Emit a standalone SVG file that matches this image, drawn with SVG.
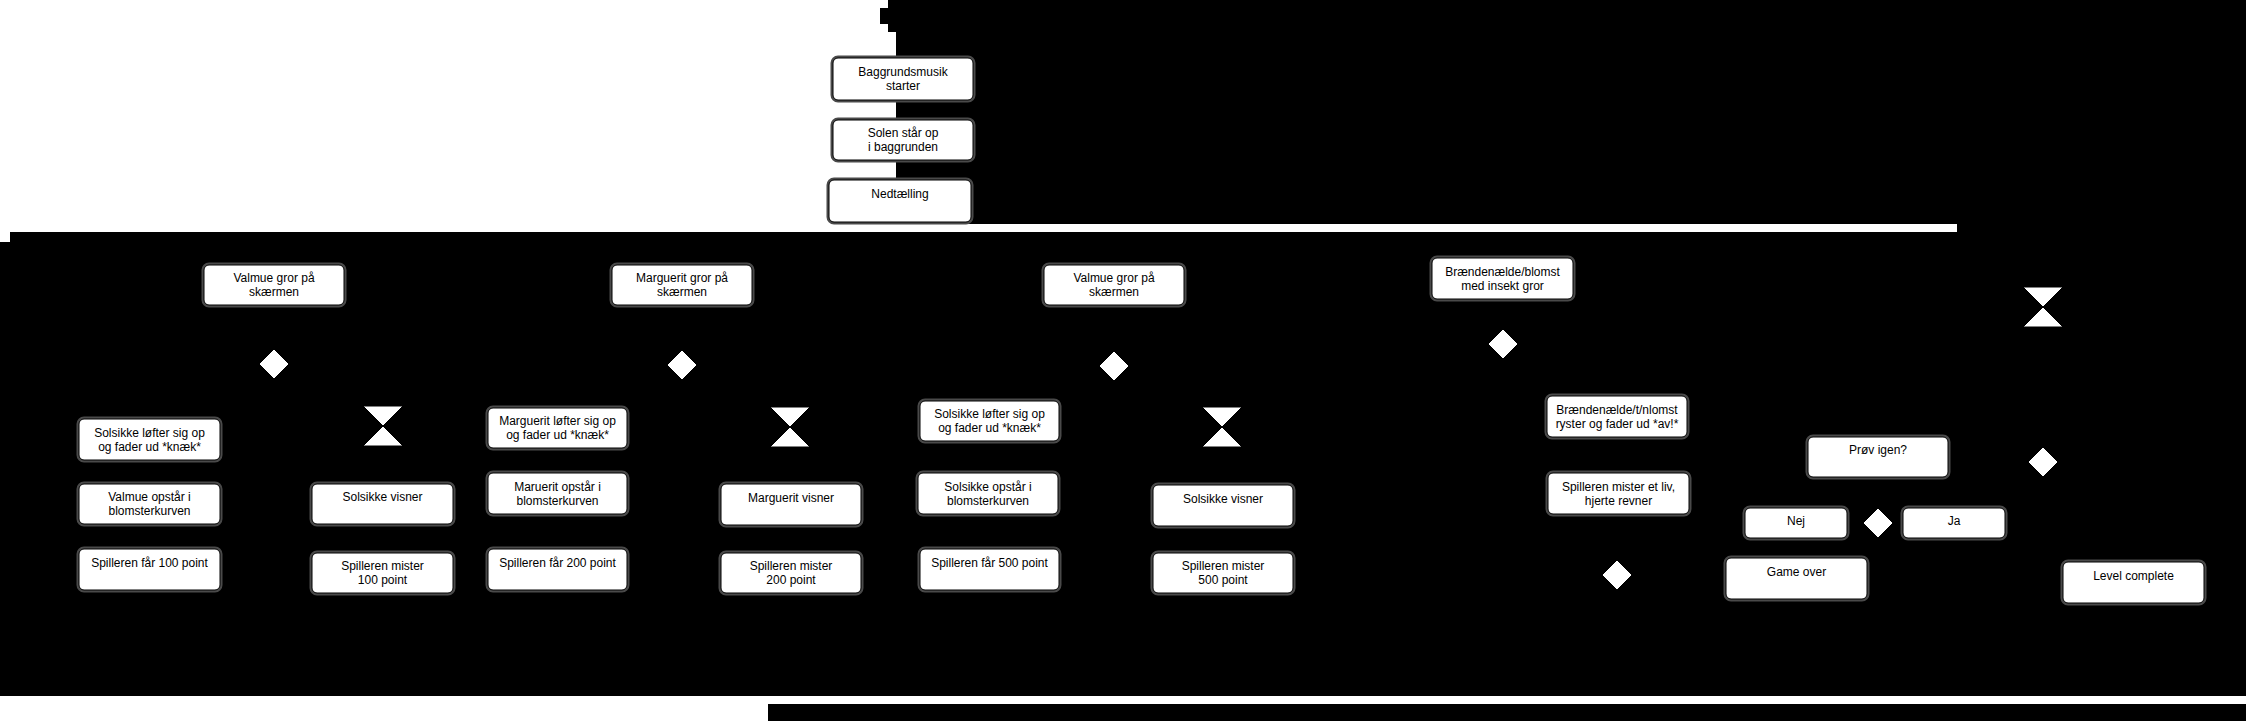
<svg xmlns="http://www.w3.org/2000/svg" width="2246" height="721" viewBox="0 0 2246 721">
<defs>
<style>
.bg{fill:#000}
.white{fill:#fff}
.halo{fill:none;stroke:#4a4a4a;stroke-width:5}
.box{fill:#fff;stroke:#000;stroke-width:1}
.dia{fill:#fff;stroke:#000;stroke-width:1}
text{font-family:"Liberation Sans",Arial,Helvetica,sans-serif;font-size:12px;fill:#000;text-anchor:middle}
.conn path{fill:none;stroke:#000;stroke-width:1;marker-end:url(#arr)}
</style>
<marker id="arr" viewBox="0 0 10 10" refX="10" refY="5" markerWidth="7" markerHeight="7" orient="auto"><path d="M0,0 L10,5 L0,10 z" fill="#000"/></marker>
</defs>
<rect class="bg" x="0" y="0" width="2246" height="721"/>
<g id="backdrop">
<polygon class="white" points="0,0 888,0 888,8 880,8 880,24 888,24 888,32 896,32 896,224 1957,224 1957,232 10,232 10,242 0,242"/>
<rect class="white" x="0" y="696" width="2246" height="8"/>
<rect class="white" x="0" y="704" width="768" height="17"/>
</g>
<g id="connectors" class="conn">
<path d="M903,32 V57"/>
<path d="M903,100 V119"/>
<path d="M903,160 V179"/>
<path d="M274,305 V348"/>
<path d="M259,364 H149.5 V418"/>
<path d="M289,364 H383 V405"/>
<path d="M149.5,460 V483"/>
<path d="M149.5,524 V548"/>
<path d="M383,447 V483"/>
<path d="M383,524 V552"/>
<path d="M682,305 V349"/>
<path d="M667,365 H557.5 V407"/>
<path d="M697,365 H790 V406"/>
<path d="M557.5,448 V472"/>
<path d="M557.5,514 V548"/>
<path d="M790,447 V483"/>
<path d="M791,525 V552"/>
<path d="M1114,305 V350"/>
<path d="M1099,366 H989.5 V400"/>
<path d="M1129,366 H1222 V406"/>
<path d="M989.5,441 V472"/>
<path d="M988,514 V548"/>
<path d="M1222,447 V484"/>
<path d="M1223,526 V552"/>
<path d="M1502.5,299 V328"/>
<path d="M1518,344 H1617 V395"/>
<path d="M1617,437 V472"/>
<path d="M1618,514 V559"/>
<path d="M1632,575 H1725"/>
<path d="M2043,327 V446"/>
<path d="M2028,462 H1949"/>
<path d="M2043,477 V540 H2133.5 V561"/>
<path d="M1878,477 V507"/>
<path d="M1863,523 H1848"/>
<path d="M1893,523 H1902"/>
<path d="M1796,538 V557"/>
</g>
<g id="n-musik"><rect class="halo" x="833" y="58" width="140" height="42" rx="5"/><rect class="box" x="833" y="58" width="140" height="42" rx="5"/><text x="903" y="76">Baggrundsmusik</text><text x="903" y="90.4">starter</text></g>
<g id="n-solen"><rect class="halo" x="833" y="120" width="140" height="40" rx="5"/><rect class="box" x="833" y="120" width="140" height="40" rx="5"/><text x="903" y="137">Solen står op</text><text x="903" y="151.4">i baggrunden</text></g>
<g id="n-nedtaelling"><rect class="halo" x="829" y="180" width="142" height="42" rx="5"/><rect class="box" x="829" y="180" width="142" height="42" rx="5"/><text x="900" y="198">Nedtælling</text></g>

<g id="n-valmue1"><rect class="halo" x="204" y="265" width="140" height="40" rx="5"/><rect class="box" x="204" y="265" width="140" height="40" rx="5"/><text x="274" y="282">Valmue gror på</text><text x="274" y="296.4">skærmen</text></g>
<g id="d1"><polygon class="dia" points="274,349 289,364 274,379 259,364"/></g>
<g id="h1"><polygon class="dia" points="363,406 403,406 363,446 403,446"/></g>
<g id="n-loefter1"><rect class="halo" x="79" y="419" width="141" height="41" rx="5"/><rect class="box" x="79" y="419" width="141" height="41" rx="5"/><text x="149.5" y="436.5">Solsikke løfter sig op</text><text x="149.5" y="450.9">og fader ud *knæk*</text></g>
<g id="n-opstaar1"><rect class="halo" x="79" y="484" width="141" height="40" rx="5"/><rect class="box" x="79" y="484" width="141" height="40" rx="5"/><text x="149.5" y="501">Valmue opstår i</text><text x="149.5" y="515.4">blomsterkurven</text></g>
<g id="n-faar100"><rect class="halo" x="79" y="549" width="141" height="41" rx="5"/><rect class="box" x="79" y="549" width="141" height="41" rx="5"/><text x="149.5" y="566.5">Spilleren får 100 point</text></g>
<g id="n-visner1"><rect class="halo" x="312" y="484" width="141" height="40" rx="5"/><rect class="box" x="312" y="484" width="141" height="40" rx="5"/><text x="382.5" y="501">Solsikke visner</text></g>
<g id="n-mister100"><rect class="halo" x="312" y="553" width="141" height="40" rx="5"/><rect class="box" x="312" y="553" width="141" height="40" rx="5"/><text x="382.5" y="570">Spilleren mister</text><text x="382.5" y="584.4">100 point</text></g>

<g id="n-marguerit"><rect class="halo" x="612" y="265" width="140" height="40" rx="5"/><rect class="box" x="612" y="265" width="140" height="40" rx="5"/><text x="682" y="282">Marguerit gror på</text><text x="682" y="296.4">skærmen</text></g>
<g id="d2"><polygon class="dia" points="682,350 697,365 682,380 667,365"/></g>
<g id="h2"><polygon class="dia" points="770,407 810,407 770,447 810,447"/></g>
<g id="n-loefter2"><rect class="halo" x="488" y="408" width="139" height="40" rx="5"/><rect class="box" x="488" y="408" width="139" height="40" rx="5"/><text x="557.5" y="425">Marguerit løfter sig op</text><text x="557.5" y="439.4">og fader ud *knæk*</text></g>
<g id="n-opstaar2"><rect class="halo" x="488" y="473" width="139" height="41" rx="5"/><rect class="box" x="488" y="473" width="139" height="41" rx="5"/><text x="557.5" y="490.5">Maruerit opstår i</text><text x="557.5" y="504.9">blomsterkurven</text></g>
<g id="n-faar200"><rect class="halo" x="488" y="549" width="139" height="41" rx="5"/><rect class="box" x="488" y="549" width="139" height="41" rx="5"/><text x="557.5" y="566.5">Spilleren får 200 point</text></g>
<g id="n-visner2"><rect class="halo" x="721" y="484" width="140" height="41" rx="5"/><rect class="box" x="721" y="484" width="140" height="41" rx="5"/><text x="791" y="501.5">Marguerit visner</text></g>
<g id="n-mister200"><rect class="halo" x="721" y="553" width="140" height="40" rx="5"/><rect class="box" x="721" y="553" width="140" height="40" rx="5"/><text x="791" y="570">Spilleren mister</text><text x="791" y="584.4">200 point</text></g>

<g id="n-valmue2"><rect class="halo" x="1044" y="265" width="140" height="40" rx="5"/><rect class="box" x="1044" y="265" width="140" height="40" rx="5"/><text x="1114" y="282">Valmue gror på</text><text x="1114" y="296.4">skærmen</text></g>
<g id="d3"><polygon class="dia" points="1114,351 1129,366 1114,381 1099,366"/></g>
<g id="h3"><polygon class="dia" points="1202,407 1242,407 1202,447 1242,447"/></g>
<g id="n-loefter3"><rect class="halo" x="920" y="401" width="139" height="40" rx="5"/><rect class="box" x="920" y="401" width="139" height="40" rx="5"/><text x="989.5" y="418">Solsikke løfter sig op</text><text x="989.5" y="432.4">og fader ud *knæk*</text></g>
<g id="n-opstaar3"><rect class="halo" x="918" y="473" width="140" height="41" rx="5"/><rect class="box" x="918" y="473" width="140" height="41" rx="5"/><text x="988" y="490.5">Solsikke opstår i</text><text x="988" y="504.9">blomsterkurven</text></g>
<g id="n-faar500"><rect class="halo" x="920" y="549" width="139" height="41" rx="5"/><rect class="box" x="920" y="549" width="139" height="41" rx="5"/><text x="989.5" y="566.5">Spilleren får 500 point</text></g>
<g id="n-visner3"><rect class="halo" x="1153" y="485" width="140" height="41" rx="5"/><rect class="box" x="1153" y="485" width="140" height="41" rx="5"/><text x="1223" y="502.5">Solsikke visner</text></g>
<g id="n-mister500"><rect class="halo" x="1153" y="553" width="140" height="40" rx="5"/><rect class="box" x="1153" y="553" width="140" height="40" rx="5"/><text x="1223" y="570">Spilleren mister</text><text x="1223" y="584.4">500 point</text></g>

<g id="n-braend"><rect class="halo" x="1432" y="258" width="141" height="41" rx="5"/><rect class="box" x="1432" y="258" width="141" height="41" rx="5"/><text x="1502.5" y="275.5">Brændenælde/blomst</text><text x="1502.5" y="289.9">med insekt gror</text></g>
<g id="d4"><polygon class="dia" points="1503,329 1518,344 1503,359 1488,344"/></g>
<g id="n-ryster"><rect class="halo" x="1547" y="396" width="140" height="41" rx="5"/><rect class="box" x="1547" y="396" width="140" height="41" rx="5"/><text x="1617" y="413.5">Brændenælde/t/nlomst</text><text x="1617" y="427.9">ryster og fader ud *av!*</text></g>
<g id="n-liv"><rect class="halo" x="1548" y="473" width="141" height="41" rx="5"/><rect class="box" x="1548" y="473" width="141" height="41" rx="5"/><text x="1618.5" y="490.5">Spilleren mister et liv,</text><text x="1618.5" y="504.9">hjerte revner</text></g>
<g id="d5"><polygon class="dia" points="1617,560 1632,575 1617,590 1602,575"/></g>

<g id="h4"><polygon class="dia" points="2023,287 2063,287 2023,327 2063,327"/></g>
<g id="n-proev"><rect class="halo" x="1808" y="437" width="140" height="40" rx="5"/><rect class="box" x="1808" y="437" width="140" height="40" rx="5"/><text x="1878" y="454">Prøv igen?</text></g>
<g id="d6"><polygon class="dia" points="2043,447 2058,462 2043,477 2028,462"/></g>
<g id="n-nej"><rect class="halo" x="1745" y="508" width="102" height="30" rx="5"/><rect class="box" x="1745" y="508" width="102" height="30" rx="5"/><text x="1796" y="525">Nej</text></g>
<g id="d7"><polygon class="dia" points="1878,508 1893,523 1878,538 1863,523"/></g>
<g id="n-ja"><rect class="halo" x="1903" y="508" width="102" height="30" rx="5"/><rect class="box" x="1903" y="508" width="102" height="30" rx="5"/><text x="1954" y="525">Ja</text></g>
<g id="n-gameover"><rect class="halo" x="1726" y="558" width="141" height="41" rx="5"/><rect class="box" x="1726" y="558" width="141" height="41" rx="5"/><text x="1796.5" y="575.5">Game over</text></g>
<g id="n-level"><rect class="halo" x="2063" y="562" width="141" height="41" rx="5"/><rect class="box" x="2063" y="562" width="141" height="41" rx="5"/><text x="2133.5" y="579.5">Level complete</text></g>
</svg>
